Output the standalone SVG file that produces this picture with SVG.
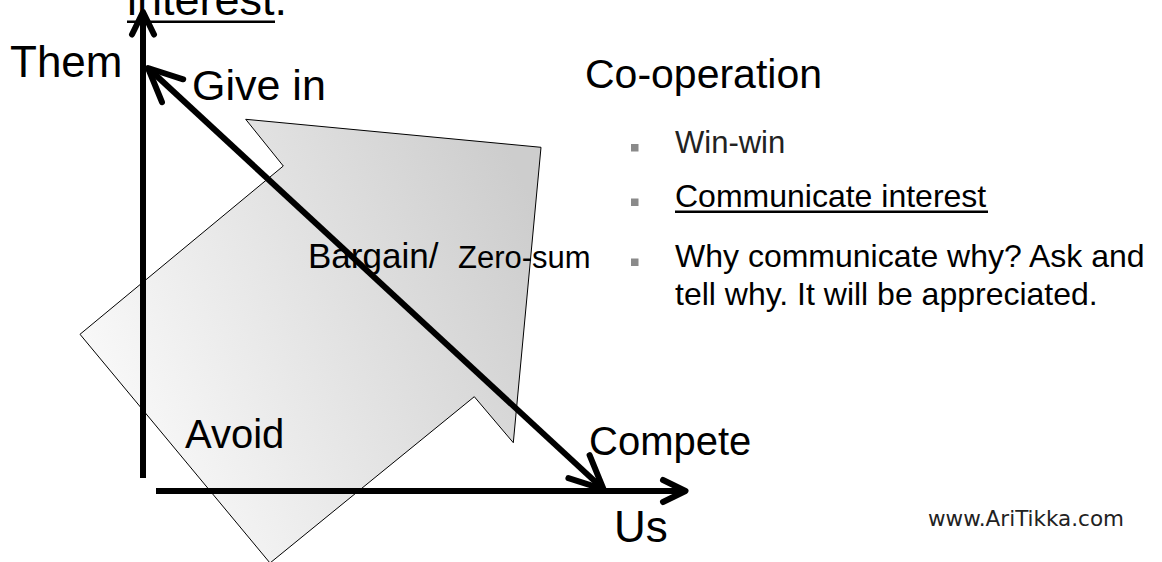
<svg xmlns="http://www.w3.org/2000/svg" width="1162" height="562" viewBox="0 0 1162 562">
  <style>
    .t{font-family:"Liberation Sans",Arial,Helvetica,sans-serif;fill:#000}
    .ax{stroke:#000;stroke-width:6;fill:none}
    .chev{stroke:#000;stroke-width:6;fill:none;stroke-linecap:round;stroke-linejoin:round}
    .ul{stroke:#000;stroke-width:2.5}
    .bul{fill:#8a8a8a}
  </style>
  <defs>
    <linearGradient id="g" gradientUnits="userSpaceOnUse" x1="80" y1="430" x2="541" y2="220">
      <stop offset="0" stop-color="#fcfcfc"/>
      <stop offset="1" stop-color="#cdcdcd"/>
    </linearGradient>
    <marker id="arrS" markerUnits="userSpaceOnUse" orient="auto" viewBox="-30 -16 34 32" markerWidth="34" markerHeight="32" refX="0" refY="0">
      <path class="chev" d="M-22.5,-11 L0,0 L-22.5,11"/>
    </marker>
    <marker id="arrL" markerUnits="userSpaceOnUse" orient="auto-start-reverse" viewBox="-40 -20 44 40" markerWidth="44" markerHeight="40" refX="0" refY="0">
      <path class="chev" d="M-33.5,-15.6 L0,0 L-33.5,15.6"/>
    </marker>
  </defs>

  <g id="title-fragment">
    <text class="t" x="127" y="15" font-size="45">interest.</text>
    <line class="ul" x1="127" y1="21.7" x2="275" y2="21.7"/>
  </g>

  <g id="big-arrow">
    <polygon points="245.7,119.3 541,147.3 513.3,442.7 474.3,396.7 270,563 80,334.3 283.3,166" fill="url(#g)" stroke="#000" stroke-width="1"/>
  </g>

  <g id="connectors">
    <line id="axis-them" class="ax" x1="143" y1="478" x2="143" y2="12" marker-end="url(#arrS)"/>
    <line id="axis-us" class="ax" x1="156" y1="491" x2="685.5" y2="491" marker-end="url(#arrS)"/>
    <line id="diagonal" class="ax" x1="148" y1="68" x2="603.6" y2="489.4" marker-start="url(#arrL)" marker-end="url(#arrL)"/>
  </g>

  <g id="label-them"><text class="t" x="10" y="77" font-size="44">Them</text></g>
  <g id="label-givein"><text class="t" x="192" y="100" font-size="43">Give in</text></g>
  <g id="label-bargain"><text class="t" x="308" y="268"><tspan font-size="35">Bargain/</tspan><tspan x="458" font-size="31">Zero-sum</tspan></text></g>
  <g id="label-avoid"><text class="t" x="185" y="448" font-size="40">Avoid</text></g>
  <g id="label-compete"><text class="t" x="589" y="455" font-size="40">Compete</text></g>
  <g id="label-us"><text class="t" x="614" y="542" font-size="44">Us</text></g>

  <g id="cooperation">
    <text class="t" x="585" y="88" font-size="41">Co-operation</text>
    <rect class="bul" x="631" y="144" width="7.5" height="7.5"/>
    <text class="t" x="675" y="153" font-size="31" style="fill:#222">Win-win</text>
    <rect class="bul" x="631" y="198.5" width="7.5" height="7.5"/>
    <text class="t" x="675" y="206.5" font-size="32">Communicate interest</text>
    <line class="ul" x1="675" y1="211.7" x2="988" y2="211.7" stroke-width="2"/>
    <rect class="bul" x="631" y="258.5" width="7.5" height="7.5"/>
    <text class="t" x="675" y="266.5" font-size="32">Why communicate why? Ask and</text>
    <text class="t" x="675" y="305" font-size="32">tell why. It will be appreciated.</text>
  </g>

  <g id="website"><text x="928" y="526" font-family="DejaVu Sans, Verdana, sans-serif" font-size="21.5" fill="#222">www.AriTikka.com</text></g>
</svg>
